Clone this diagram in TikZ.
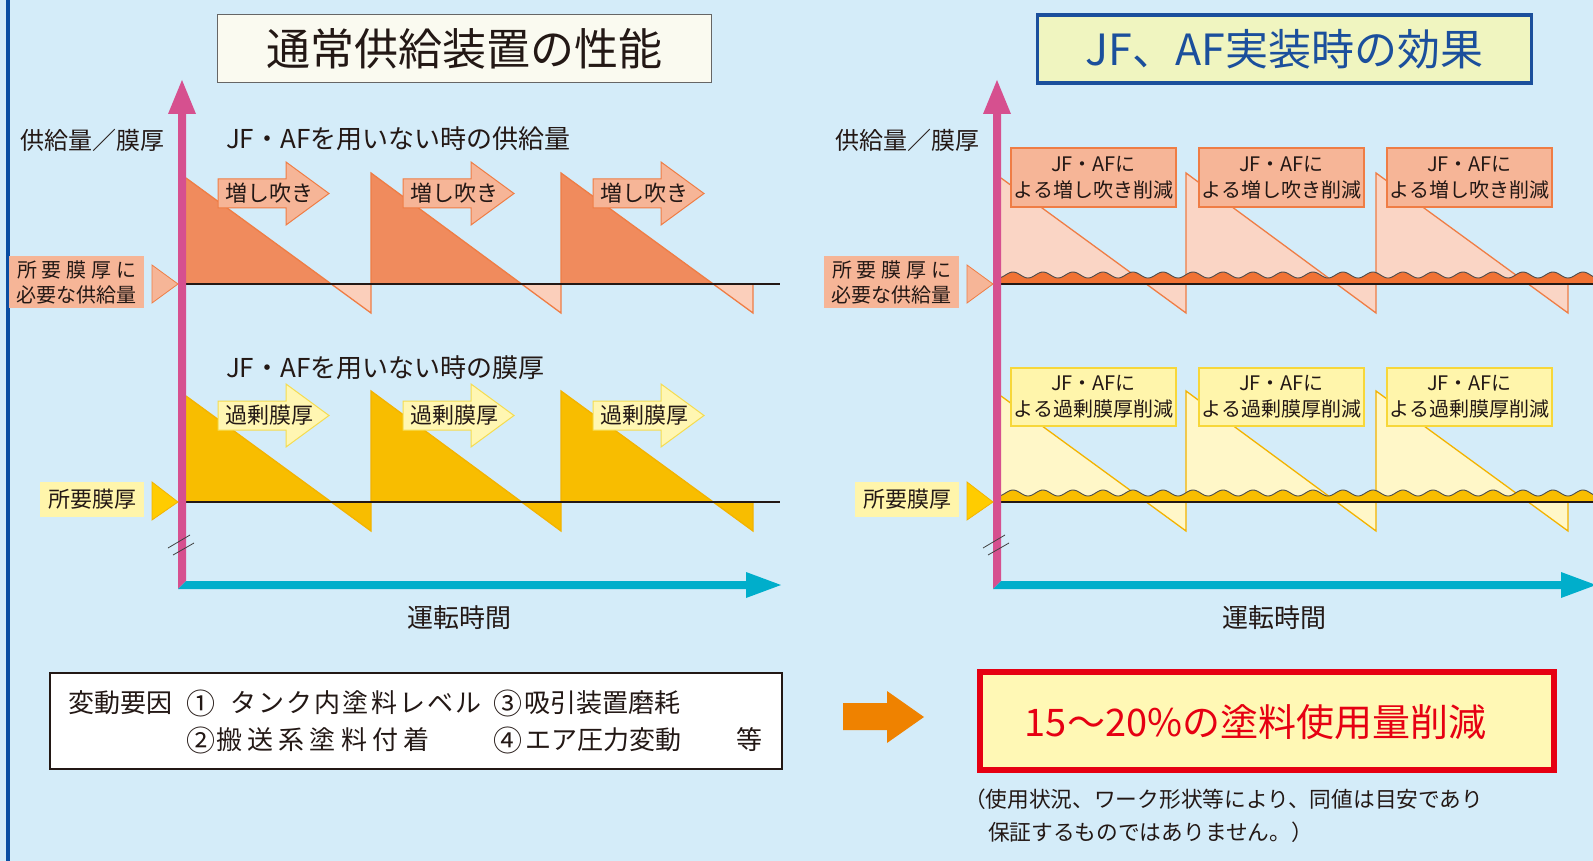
\documentclass[tikz,border=0pt]{standalone}
\usepackage{fontspec}
\setmainfont{Noto Sans CJK JP}
\definecolor{bg}{HTML}{D4ECF9}
\definecolor{borderblue}{HTML}{0B4EA2}
\definecolor{pinkaxis}{HTML}{D6508F}
\definecolor{cyanaxis}{HTML}{00AECB}
\definecolor{salmon}{HTML}{F6B597}
\definecolor{orangeline}{HTML}{EF7D45}
\definecolor{darkorange}{HTML}{F08B5D}
\definecolor{lightsalmon}{HTML}{FBCFBB}
\definecolor{rsalmon}{HTML}{FAD5C5}
\definecolor{waveorange}{HTML}{F07234}
\definecolor{gold}{HTML}{F8BD00}
\definecolor{goldline}{HTML}{F3B300}
\definecolor{ylabel}{HTML}{FFF5AB}
\definecolor{yline}{HTML}{F7D73A}
\definecolor{ryellow}{HTML}{FFF7C8}
\definecolor{trigold}{HTML}{FFCC00}
\definecolor{txt}{HTML}{231815}
\definecolor{titlecream}{HTML}{FAFAF0}
\definecolor{titleyellow}{HTML}{F0F5C0}
\definecolor{titleblue}{HTML}{1B4F9C}
\definecolor{redc}{HTML}{E60012}
\definecolor{redfill}{HTML}{FFF8B5}
\definecolor{arroworange}{HTML}{EF8200}
\definecolor{arrowyellow}{HTML}{FFF6B2}
\definecolor{arrowyline}{HTML}{F5DC50}
\newcommand\myfs[1]{\fontsize{#1pt}{#1pt}\selectfont}
\newcommand\myfsl[2]{\fontsize{#1pt}{#2pt}\selectfont}
\tikzset{
  breakmark/.style={draw=black!75, line width=0.8pt},
  baseln/.style={draw=txt, line width=2.2pt},
  salmonlabel/.style={fill=salmon},
  yellowlabel/.style={fill=ylabel},
  salmonptr/.style={fill=salmon, draw=orangeline, line width=0.8pt},
  goldptr/.style={fill=trigold, draw=goldline, line width=0.8pt},
  salmonarrow/.style={fill=salmon, draw=orangeline, line width=1pt},
  yellowarrow/.style={fill=arrowyellow, draw=arrowyline, line width=1pt},
  salmonbox/.style={fill=salmon, draw=orangeline, line width=1.3pt, minimum width=165pt, minimum height=59pt, align=center, font=\myfsl{20}{26}},
  yellowbox/.style={fill=ylabel, draw=yline, line width=1.3pt, minimum width=165pt, minimum height=58pt, align=center, font=\myfsl{20}{26}},
  waveline/.style={draw=black!70, line width=0.9pt},
}
\newcommand\panelcommon[2]{%
\begin{scope}[shift={(#1,0)}]
 \fill[pinkaxis] (178,114) -- (186,114) -- (186,581) -- (178,589) -- cycle;
 \fill[pinkaxis] (168,114) -- (196,114) -- (182,80) -- cycle;
 \fill[cyanaxis] (178,589) -- (186,581) -- (746,581) -- (746,572) -- (781,585) -- (746,598) -- (746,589) -- cycle;
 \draw[breakmark] (168,548) -- (190,535) (173,555) -- (194,543);
 \node (#2ylab) at (92,140) {\myfs{24}供給量／膜厚};
 \node (#2xlab) at (459,618) {\myfs{26}運転時間};
 \node[salmonlabel, minimum width=135pt, minimum height=52pt, align=center, font=\myfsl{20}{25}] (#2need) at (76.5,282) {\makebox[119pt][s]{所\hfil 要\hfil 膜\hfil 厚\hfil に}\\必要な供給量};
 \draw[salmonptr] (152,265) -- (152,303) -- (178,284) -- cycle;
 \node[yellowlabel, minimum width=104pt, minimum height=35pt] (#2req) at (92,499.5) {\myfs{22}所要膜厚};
 \draw[goldptr] (152,482) -- (152,520) -- (178,502) -- cycle;
\end{scope}}
\newcommand\teeth[5]{%
\begin{scope}[shift={(#1,#2)}]
 \fill[#3] (186,178) -- (331,284) -- (186,284) -- cycle
           (371,173) -- (521.6,284) -- (371,284) -- cycle
           (561,173) -- (713.2,284) -- (561,284) -- cycle;
 \fill[#4] (331,284) -- (371,313) -- (371,284) -- cycle
           (521.6,284) -- (561,313) -- (561,284) -- cycle
           (713.2,284) -- (753,313) -- (753,284) -- cycle;
 \draw[#5, line width=1.3pt] (186,178) -- (371,313) -- (371,173) -- (561,313) -- (561,173) -- (753,313) -- (753,284);
\end{scope}}
\newcommand\wave[2]{%
 \fill[#2] (1001,#1) -- plot[domain=1001:1596, samples=400] (\x,{#1-9-3*cos((\x-1013)*12)}) -- (1596,#1) -- cycle;
 \draw[waveline] plot[domain=1001:1596, samples=400] (\x,{#1-9-3*cos((\x-1013)*12)});
}
\newcommand\blockarrow[5]{%
 \draw[#3] (#1,#2-14.5) -- ++(68,0) -- ++(0,-17) -- (#1+111,#2) -- (#1+68,#2+31.5) -- ++(0,-17) -- (#1,#2+14.5) -- cycle;
 \node (#4) at (#1+51,#2) {\myfs{22}#5};}
\begin{document}
\begin{tikzpicture}[x=1pt,y=-1pt, every node/.style={inner sep=0pt, outer sep=0pt, text=txt}]
\clip (0,0) rectangle (1593,861);
\fill[bg] (0,0) rectangle (1593,861);
\fill[borderblue] (6,0) rectangle (10,861);
% titles
\node[draw=black!60, line width=1.3pt, fill=titlecream, minimum width=494pt, minimum height=68pt] (t1) at (464.5,48.5) {\myfs{44}通常供給装置の性能};
\node[draw=titleblue, line width=3.5pt, fill=titleyellow, minimum width=494pt, minimum height=68pt, text=titleblue] (t2) at (1284.5,49) {\myfs{43}JF、AF実装時の効果};
% left panel
\teeth{0}{0}{darkorange}{lightsalmon}{orangeline}
\teeth{0}{218}{gold}{gold}{goldline}
\draw[baseln] (186,284) -- (780,284);
\draw[baseln] (186,502) -- (780,502);
\node[anchor=west] (lsup) at (226,139) {\myfs{26}JF・AFを用いない時の供給量};
\node[anchor=west] (lthk) at (226,368) {\myfs{26}JF・AFを用いない時の膜厚};
\blockarrow{218}{193.5}{salmonarrow}{ma1}{増し吹き}
\blockarrow{403}{193.5}{salmonarrow}{ma2}{増し吹き}
\blockarrow{593}{193.5}{salmonarrow}{ma3}{増し吹き}
\blockarrow{218}{415.5}{yellowarrow}{ka1}{過剰膜厚}
\blockarrow{403}{415.5}{yellowarrow}{ka2}{過剰膜厚}
\blockarrow{593}{415.5}{yellowarrow}{ka3}{過剰膜厚}
\panelcommon{0}{L}
% right panel
\teeth{815}{0}{rsalmon}{rsalmon}{orangeline}
\teeth{815}{218}{ryellow}{ryellow}{goldline}
\wave{284}{waveorange}
\wave{502}{gold}
\draw[baseln] (1001,284) -- (1593,284);
\draw[baseln] (1001,502) -- (1593,502);
\node[salmonbox] (ru1) at (1093.5,177.5) {JF・AFに\\よる増し吹き削減};
\node[salmonbox] (ru2) at (1281.5,177.5) {JF・AFに\\よる増し吹き削減};
\node[salmonbox] (ru3) at (1469.5,177.5) {JF・AFに\\よる増し吹き削減};
\node[yellowbox] (rl1) at (1093.5,397) {JF・AFに\\よる過剰膜厚削減};
\node[yellowbox] (rl2) at (1281.5,397) {JF・AFに\\よる過剰膜厚削減};
\node[yellowbox] (rl3) at (1469.5,397) {JF・AFに\\よる過剰膜厚削減};
\panelcommon{815}{R}
% bottom left factors
\node[draw=txt, line width=2pt, fill=white, minimum width=732pt, minimum height=96pt] (factors) at (416,721) {};
\node[anchor=west] (f0) at (68,703) {\myfs{26}変動要因};
\node (c1) at (201,703) {\myfs{29}①};
\node[anchor=west] (f1) at (230,703) {\myfs{26}\makebox[252pt][s]{タ\hfil ン\hfil ク\hfil 内\hfil 塗\hfil 料\hfil レ\hfil ベ\hfil ル}};
\node (c3) at (508,703) {\myfs{29}③};
\node[anchor=west] (f3) at (524,703) {\myfs{26}吸引装置磨耗};
\node (c2) at (201,740) {\myfs{29}②};
\node[anchor=west] (f2) at (216,740) {\myfs{26}\makebox[214pt][s]{搬\hfil 送\hfil 系\hfil 塗\hfil 料\hfil 付\hfil 着}};
\node (c4) at (508,740) {\myfs{29}④};
\node[anchor=west] (f4) at (525,740) {\myfs{26}エア圧力変動};
\node (etc) at (749,740) {\myfs{26}等};
% arrow and result
\fill[arroworange] (843,703) -- (887,703) -- (887,691) -- (924,717) -- (887,743) -- (887,730) -- (843,730) -- cycle;
\node[draw=redc, line width=6pt, fill=redfill, minimum width=574pt, minimum height=98pt] (result) at (1267,721) {};
\node[text=redc] (restext) at (1255.5,722) {\myfs{38}15～20\%の塗料使用量削減};
\node[anchor=west] (note1) at (964,799) {\myfs{21.7}（使用状況、ワーク形状等により、同値は目安であり};
\node[anchor=west] (note2) at (988,832) {\myfs{21.7}保証するものではありません。）};
\end{tikzpicture}
\end{document}
